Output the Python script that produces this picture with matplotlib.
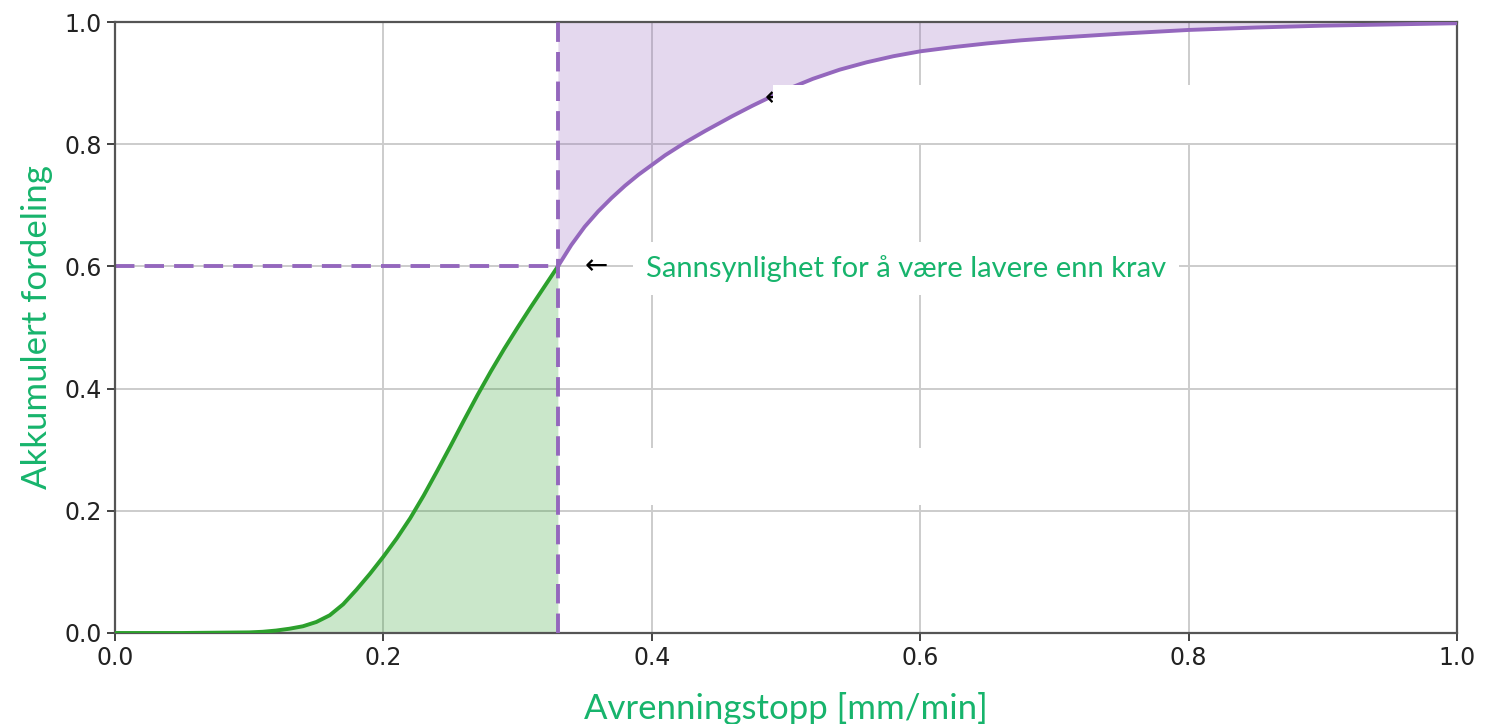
# ------------------------------------------------------------------------ #
#                                  MODULES                                 #
# ------------------------------------------------------------------------ #

import numpy             as np
import matplotlib
matplotlib.use("Agg")
import matplotlib.pyplot as plt
from matplotlib.patches import Rectangle

# ---------------------------------------------------------------------------- #
#                                   VARIABLES                                  #
# ---------------------------------------------------------------------------- #

# avrenningstopp [mm/min] and akkumulert fordeling
runoff = [0.00, 0.05, 0.10, 0.11, 0.12, 0.13, 0.14, 0.15, 0.16, 0.17, 0.18,
          0.19, 0.20, 0.21, 0.22, 0.23, 0.24, 0.25, 0.26, 0.27, 0.28,
          0.29, 0.30, 0.31, 0.32, 0.33,
          0.34, 0.35, 0.36, 0.37, 0.38, 0.39, 0.40, 0.41, 0.425, 0.44, 0.45,
          0.46, 0.475, 0.49, 0.50, 0.52, 0.54, 0.56, 0.58, 0.60, 0.625,
          0.65, 0.675, 0.70, 0.75, 0.80, 0.85, 0.90, 0.95, 1.00]
cdf    = [0.000, 0.000, 0.001, 0.002, 0.004, 0.007, 0.011, 0.018, 0.029, 0.047, 0.071,
          0.097, 0.125, 0.155, 0.188, 0.225, 0.265, 0.306, 0.348, 0.389, 0.428,
          0.465, 0.500, 0.534, 0.567, 0.600,
          0.635, 0.665, 0.690, 0.712, 0.732, 0.750, 0.766, 0.782, 0.803, 0.822, 0.834,
          0.846, 0.863, 0.879, 0.889, 0.907, 0.922, 0.934, 0.944, 0.952, 0.959,
          0.965, 0.970, 0.974, 0.981, 0.987, 0.991, 0.994, 0.996, 0.998]

krav      = 0.33   # kravverdi
krav_prob = 0.60   # sannsynlighet for å være lavere enn krav

xticks = [0.0, 0.2, 0.4, 0.6, 0.8, 1.0]
yticks = [0.0, 0.2, 0.4, 0.6, 0.8, 1.0]

GREEN     = "#2ca02c"
PURPLE    = "#9467bd"
LABELCOL  = "#17b46c"
LABELFONT = ["Lato", "DejaVu Sans"]

# ---------------------------------------------------------------------------- #
#                                     PLOT                                     #
# ---------------------------------------------------------------------------- #

x = np.array(runoff)
y = np.array(cdf)
below = x <= krav
above = x >= krav

fig = plt.figure(figsize=(14.86, 7.24), dpi=100)
ax = fig.add_axes([0.0774, 0.1257, 0.9031, 0.8439])

ax.grid(True, color="#cccccc", linewidth=1.4, zorder=0)
ax.set_axisbelow(True)

# fills
ax.fill_between(x[below], 0, y[below], color=GREEN, alpha=0.25, linewidth=0, zorder=1)
ax.fill_between(x[above], y[above], 1, color=PURPLE, alpha=0.25, linewidth=0, zorder=1)

# curves
ax.plot(x[below], y[below], color=GREEN, linewidth=2.8, zorder=3,
        solid_joinstyle="round")
ax.plot(x[above], y[above], color=PURPLE, linewidth=2.8, zorder=3,
        solid_joinstyle="round")

# krav lines
ax.plot([0, krav], [krav_prob, krav_prob], color=PURPLE, linewidth=2.8,
        linestyle=(0, (5, 2.6)), zorder=2)
ax.plot([krav, krav], [0, 1], color=PURPLE, linewidth=2.8,
        linestyle=(0, (5, 2.6)), zorder=4)

# annotation
ax.text(krav + 0.02, krav_prob, "←", fontsize=20, color="black",
        ha="left", va="center", zorder=4)
ax.text(0.3955, krav_prob - 0.004, "Sannsynlighet for å være lavere enn krav",
        fontsize=21, color=LABELCOL, family=LABELFONT, ha="left", va="center",
        zorder=5,
        bbox=dict(boxstyle="square,pad=0.45", facecolor="white", edgecolor="none"))

# upper annotation (text hidden behind white box in the original)
ax.text(0.484, 0.875, "←", fontsize=20, color="black",
        ha="left", va="center", zorder=4)
ax.add_patch(Rectangle((0.490, 0.802), 0.311, 0.095, facecolor="white",
                       edgecolor="none", zorder=5))
ax.add_patch(Rectangle((0.354, 0.209), 0.268, 0.094, facecolor="white",
                       edgecolor="none", zorder=5))

ax.set_xlim(0, 1)
ax.set_ylim(0, 1)
ax.set_xticks(xticks)
ax.set_yticks(yticks)
ax.tick_params(labelsize=17, length=6, width=1.2, colors="#222222")
for side in ax.spines.values():
    side.set_color("#555555")
    side.set_linewidth(1.6)

ax.set_xlabel("Avrenningstopp [mm/min]", fontsize=25, color=LABELCOL,
              family=LABELFONT, labelpad=16)
ax.set_ylabel("Akkumulert fordeling", fontsize=25, color=LABELCOL,
              family=LABELFONT, labelpad=8)

fig.savefig("out.png", dpi=100)
